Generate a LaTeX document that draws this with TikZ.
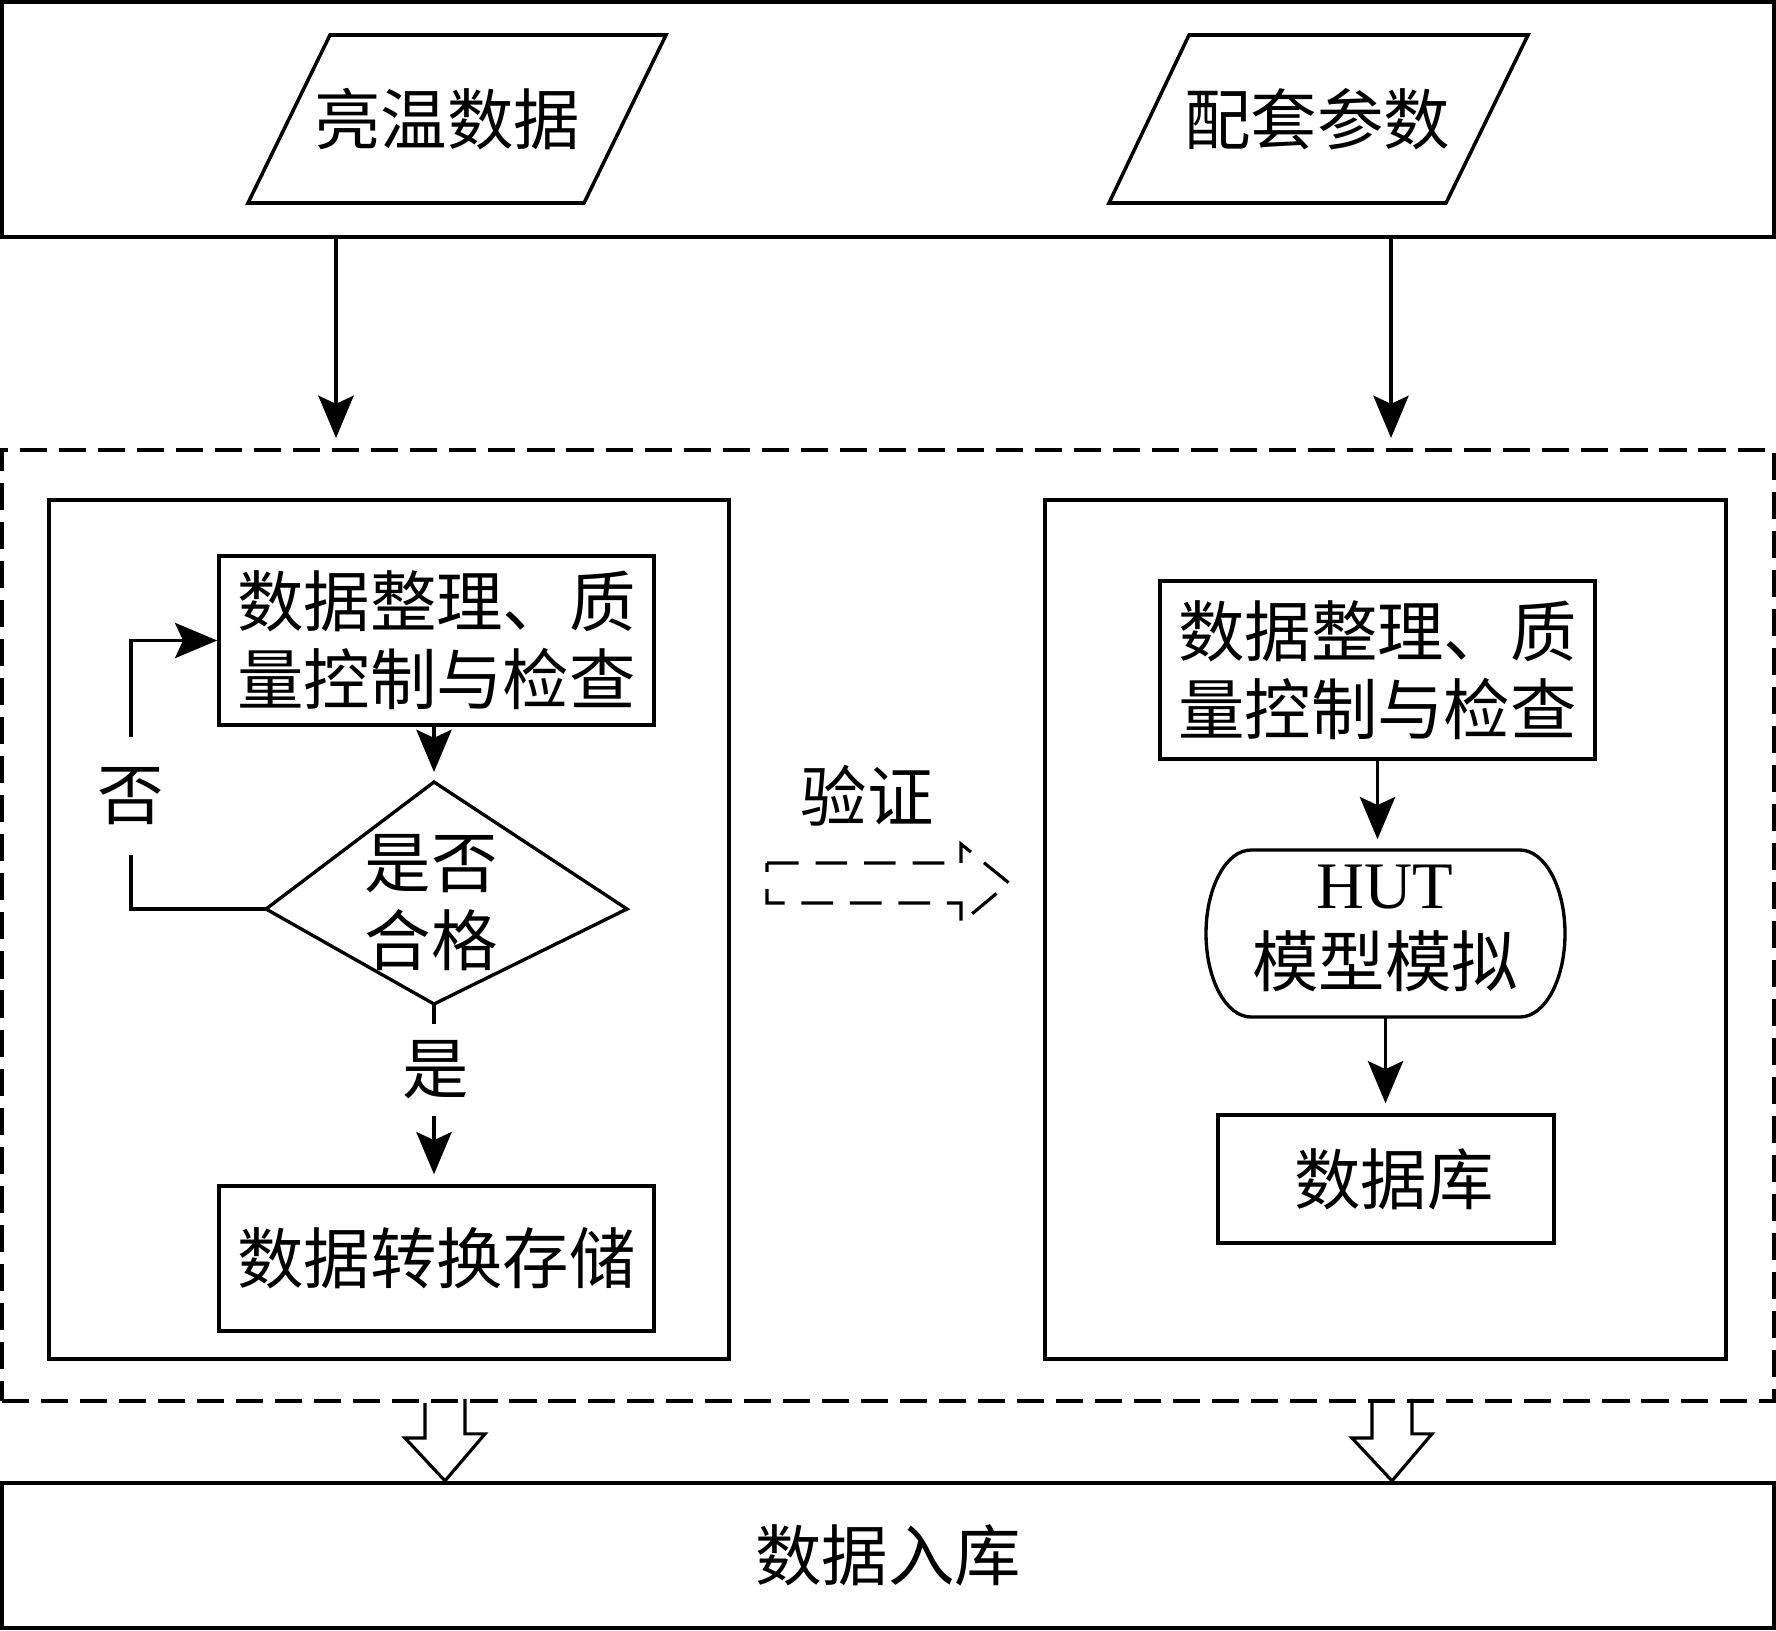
\documentclass[tikz,border=0pt]{standalone}
\usepackage{fontspec}
\setmainfont{Noto Sans CJK SC}
\newfontfamily\latf{Liberation Serif}
\usetikzlibrary{fit,arrows.meta}
\begin{document}
\begin{tikzpicture}[x=0.01cm,y=-0.01cm,
  txt/.style={font=\fontsize{18.9}{22.2}\selectfont, align=center},
  bigbox/.style={draw, line width=1.2pt, inner sep=0pt, txt},
  dbox/.style={draw, line width=1.15pt, inner sep=0pt, dash pattern=on 7.7pt off 3.4pt},
  inbox/.style={draw, line width=0.95pt, inner sep=0pt},
  sbox/.style={draw, line width=0.95pt, inner sep=0pt, txt},
  para/.style={draw, line width=1pt, line join=miter},
  arr/.style={-{Stealth[length=12pt,width=10pt,inset=2.3pt]}, line width=1.1pt},
  sarr/.style={arr, shorten >=0.1cm},
  hollow/.style={draw, line width=0.9pt, line join=miter},
  dhollow/.style={draw, line width=0.9pt, dash pattern=on 9pt off 4.8pt},
  lbl/.style={txt, fill=white, inner xsep=2pt}
  ]
\useasboundingbox (0,0) rectangle (1776,1630);

% top box with inputs
\node[bigbox, fit={(2,2)(1774,237)}] (top) {};
\draw[para] (330,35) -- (666,35) -- (584,203) -- (248,203) -- cycle;
\node[txt] (p1) at (447,119) {亮温数据};
\draw[para] (1189,35) -- (1528,35) -- (1446,203) -- (1109,203) -- cycle;
\node[txt] (p2) at (1317,119) {配套参数};

% dashed middle box
\node[dbox, fit={(2,450)(1774,1401)}] (mid) {};
\coordinate (a1) at (336,0);
\coordinate (a2) at (1391,0);
\draw[sarr] (top.south -| a1) -- (mid.north -| a1);
\draw[sarr] (top.south -| a2) -- (mid.north -| a2);

% left panel
\node[inbox, fit={(49,500)(729,1359)}] (L) {};
\node[sbox, minimum width=4.35cm, minimum height=1.69cm] (b1) at (436.5,640.5) {数据整理、质\\量控制与检查};
\coordinate (dt) at (434,782);
\coordinate (dl) at (266,909);
\coordinate (dr) at (627,909);
\coordinate (dbm) at (434,1004);
\draw[line width=0.95pt, line join=miter] (dt) -- (dr) -- (dbm) -- (dl) -- cycle;
\node[txt] (diat) at (431,903) {是否\\合格};
\node[sbox, minimum width=4.35cm, minimum height=1.45cm] (b2) at (436.5,1258.5) {数据转换存储};
\draw[sarr] (b1.south -| dt) -- (dt);
\coordinate (lp) at (131,909);
\draw[arr] (dl) -- (lp) |- (b1.west);
\node[lbl, inner ysep=0.3cm] (no) at (131,796) {否};
\draw[sarr] (dbm) -- (dbm |- b2.north);
\node[lbl, inner ysep=0.17cm] (yes) at (436,1070) {是};

% verification arrow
\node[txt] (ver) at (867,796) {验证};
\draw[dhollow] (767,863) -- (961,863) -- (961,844) -- (1009,883) -- (961,923) -- (961,903) -- (767,903) -- cycle;

% right panel
\node[inbox, fit={(1045,500)(1726,1359)}] (R) {};
\node[sbox, minimum width=4.35cm, minimum height=1.78cm] (rb1) at (1377.5,670) {数据整理、质\\量控制与检查};
\node[inner sep=0pt, minimum width=3.59cm, minimum height=1.67cm] (hut) at (1385.5,933.5) {};
\draw[line width=0.95pt] (1251,850) -- (1520,850)
  arc[start angle=-90, end angle=90, x radius=45, y radius=83.5]
  -- (1251,1017)
  arc[start angle=90, end angle=270, x radius=45, y radius=83.5] -- cycle;
\node[txt] (hutt) at (1385,928) {{\latf HUT}\\模型模拟};
\node[sbox, minimum width=3.36cm, minimum height=1.28cm] (db) at (1386,1179) {\hspace*{0.16cm}数据库};
\draw[sarr] (rb1.south) -- (rb1.south |- hut.north);
\draw[sarr] (hut.south) -- (hut.south |- db.north);

% bottom box
\node[bigbox, minimum width=17.72cm, minimum height=1.45cm] (bot) at (888,1555.5) {数据入库};
\coordinate (h1) at (445,0);
\coordinate (h2) at (1392,0);
\draw[hollow] (mid.south -| h1) ++(-20,0) -- ++(0,35) -- ++(-20,0) -- (bot.north -| h1) -- ++(40,-47) -- ++(-20,0) -- ++(0,-35);
\draw[hollow] (mid.south -| h2) ++(-20,0) -- ++(0,35) -- ++(-20,0) -- (bot.north -| h2) -- ++(40,-47) -- ++(-20,0) -- ++(0,-35);
\end{tikzpicture}
\end{document}
